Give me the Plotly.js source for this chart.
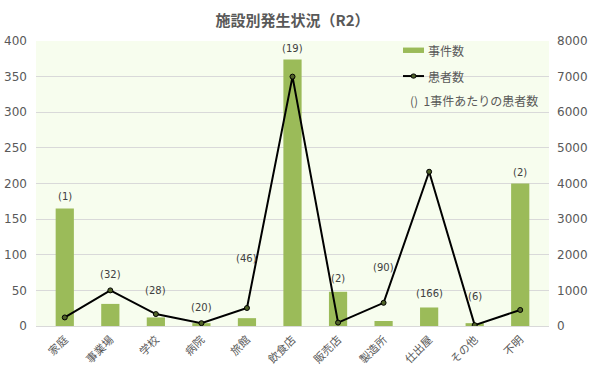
<!DOCTYPE html>
<html><head><meta charset="utf-8">
<script src="https://cdn.plot.ly/plotly-3.0.1.min.js"></script>
<style>html,body{margin:0;padding:0;background:#fff}#chart{width:591px;height:373px}</style>
</head><body><div id="chart"></div>
<script>
const categories = ['家庭','事業場','学校','病院','旅館','飲食店','販売店','製造所','仕出屋','その他','不明'];
const incidents = [165, 31, 12, 4, 11, 374, 48, 7, 26, 4, 200];
const patients = [240, 1000, 335, 80, 505, 7000, 95, 650, 4330, 24, 450];
const perIncident = [1, 32, 28, 20, 46, 19, 2, 90, 166, 6, 2];
const seriesNames = ['事件数', '患者数', '1事件あたりの患者数'];

// label placement (layout): anchor on bar or line, plus pixel shift
const labelOnLine = [false, true, true, true, true, false, false, true, false, false, false];
const labelShift = [4, 8, 16, 8, 42, 4, 6, 28, 6, 19, 4];

const font = 'Noto Sans CJK JP, sans-serif';
const gray = '#595959';
const barColor = '#9BBB59';

const annotations = categories.map((c, i) => {
  const base = labelOnLine[i] ? patients[i] / 20 : incidents[i];
  return {
    x: c, y: base, xref: 'x', yref: 'y', yanchor: 'bottom', yshift: labelShift[i],
    text: '(' + perIncident[i] + ')', showarrow: false,
    font: {family: 'DejaVu Sans, sans-serif', size: 10, color: '#404040'}
  };
});
// manual legend
const legFont = {family: font, size: 12, color: gray};
annotations.push({xref: 'paper', yref: 'paper', x: 0.760, y: 0.968, xanchor: 'left', yanchor: 'middle',
  text: seriesNames[0], showarrow: false, font: legFont});
annotations.push({xref: 'paper', yref: 'paper', x: 0.760, y: 0.877, xanchor: 'left', yanchor: 'middle',
  text: seriesNames[1], showarrow: false, font: legFont});
annotations.push({xref: 'paper', yref: 'paper', x: 0.725, y: 0.790, xanchor: 'left', yanchor: 'middle',
  text: '()&nbsp;&nbsp;' + seriesNames[2], showarrow: false, font: legFont});

const shapes = [
  {type: 'rect', xref: 'paper', yref: 'paper', x0: 0.7154, x1: 0.7563, y0: 0.958, y1: 0.977,
   fillcolor: barColor, line: {width: 0}},
  {type: 'line', xref: 'paper', yref: 'paper', x0: 0.7154, x1: 0.7563, y0: 0.877, y1: 0.877,
   line: {color: '#000', width: 2}},
  {type: 'circle', xref: 'paper', yref: 'paper', x0: 0.7310, x1: 0.7410, y0: 0.8695, y1: 0.8845,
   fillcolor: '#4F6228', line: {color: '#000', width: 1}}
];

const data = [
  {type: 'bar', x: categories, y: incidents, name: seriesNames[0],
   marker: {color: barColor}, yaxis: 'y', showlegend: false},
  {type: 'scatter', mode: 'lines+markers', x: categories, y: patients, name: seriesNames[1],
   line: {color: '#000000', width: 2}, marker: {color: '#4F6228', size: 5, line: {color: '#000', width: 1}},
   yaxis: 'y2', showlegend: false}
];

const layout = {
  width: 591, height: 373,
  margin: {l: 36, r: 42, t: 41, b: 47},
  paper_bgcolor: '#ffffff', plot_bgcolor: '#F7FDEE',
  title: {text: '<b>施設別発生状況（R2）</b>', x: 0.5, xref: 'paper', y: 0.945, yanchor: 'middle',
          font: {family: font, size: 15, color: gray}},
  bargap: 0.6,
  showlegend: false,
  xaxis: {tickangle: -45, tickfont: {family: font, size: 11, color: gray}, showline: true,
          linecolor: '#d9d9d9', ticks: '', automargin: false, ticklabelstandoff: 2},
  yaxis: {range: [0, 400], dtick: 50, gridcolor: '#d9d9d9', zeroline: false, showline: false,
          tickfont: {family: 'DejaVu Sans, sans-serif', size: 12, color: gray}, ticks: '', automargin: false,
          ticklabelstandoff: 8},
  yaxis2: {range: [0, 8000], dtick: 1000, overlaying: 'y', side: 'right', showgrid: false, automargin: false,
           zeroline: false, tickfont: {family: 'DejaVu Sans, sans-serif', size: 12, color: gray}, ticks: '',
           ticklabelstandoff: 7},
  annotations: annotations,
  shapes: shapes
};

Plotly.newPlot('chart', data, layout, {displayModeBar: false, staticPlot: true});
</script>
</body></html>
